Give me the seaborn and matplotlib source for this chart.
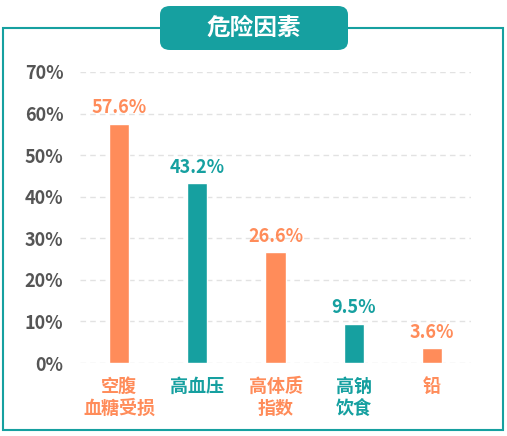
import matplotlib
matplotlib.use("Agg")
import matplotlib.pyplot as plt
import seaborn as sns
import pandas as pd
from matplotlib.patches import FancyBboxPatch, Rectangle

categories = ["空腹\n血糖受损", "高血压", "高体质\n指数", "高钠\n饮食", "铅"]
values = [57.6, 43.2, 26.6, 9.5, 3.6]
labels = ["57.6%", "43.2%", "26.6%", "9.5%", "3.6%"]
yticks = [0, 10, 20, 30, 40, 50, 60, 70]
ORANGE = "#FF8C5A"
TEAL = "#16A0A0"
colors = [ORANGE, TEAL, ORANGE, TEAL, ORANGE]

sns.set_style("white")
plt.rcParams['font.family'] = ['Noto Sans CJK SC', 'DejaVu Sans']

fig = plt.figure(figsize=(5.07, 4.36), dpi=100)
fig.patches.append(Rectangle((3/507, 6/436), 500/507, 402/436, transform=fig.transFigure,
                             fill=False, edgecolor=TEAL, lw=1.5))
fig.patches.append(FancyBboxPatch((160/507, (436-50)/436), 188/507, 44/436, transform=fig.transFigure,
                                  boxstyle="round,pad=0,rounding_size=0.02", facecolor=TEAL, edgecolor="none"))
fig.text(254/507, (436-28)/436, "危险因素", color="white", fontsize=17, fontweight="bold",
         ha="center", va="center")

ax = fig.add_axes([80/507, 73/436, 391/507, 291/436])
df = pd.DataFrame({"cat": categories, "val": values})
sns.barplot(data=df, x="cat", y="val", hue="cat", palette=colors, width=0.26, legend=False, ax=ax, saturation=1)
ax.set_xlim(-0.5, 4.5)
ax.set_ylim(0, 70)
ax.set_yticks(yticks)
ax.set_yticklabels([f"{t}%" for t in yticks], fontsize=13, fontweight="bold", color="#555555")
ax.grid(axis="y", ls=(0, (4, 3)), color="#E2E2E2", lw=1)
ax.set_axisbelow(True)
for s in ax.spines.values():
    s.set_visible(False)
ax.tick_params(length=0, pad=10)
ax.set_xlabel("")
ax.set_ylabel("")
for i, t in enumerate(ax.get_xticklabels()):
    t.set_color(colors[i]); t.set_fontsize(13); t.set_fontweight("bold")
for i, v in enumerate(values):
    ax.text(i, v + 1.5, labels[i], ha="center", va="bottom", color=colors[i], fontsize=13, fontweight="bold")
ax.yaxis.set_tick_params(pad=12)
fig.savefig("out.png", dpi=100)
